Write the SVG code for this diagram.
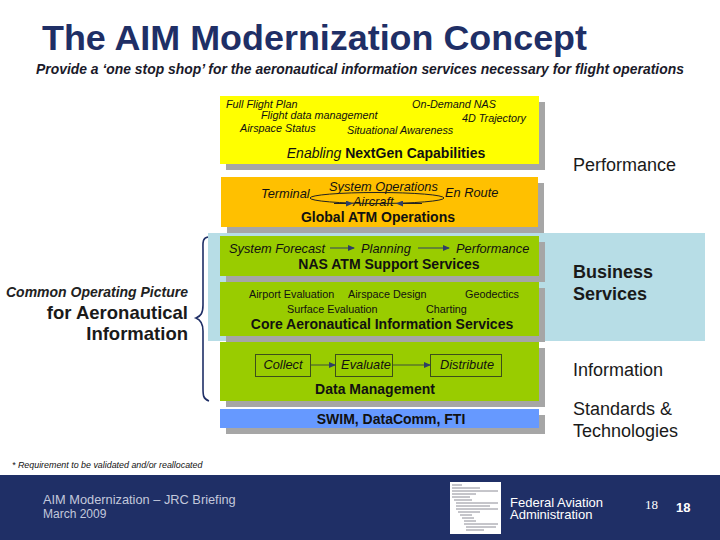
<svg xmlns="http://www.w3.org/2000/svg" width="720" height="540" viewBox="0 0 720 540">
<style>
text{font-family:"Liberation Sans",Arial,sans-serif;fill:#111}
.i{font-style:italic}
.s{font-size:10.8px}
.m{font-size:12.8px}
.b{font-weight:bold;font-size:14px}
.h{font-size:18px;fill:#1a1a1a}
.hb{font-size:18.5px;font-weight:bold;fill:#1a1a1a;font-weight:500}
.sh{fill:#a6a6a6}
.m2{text-anchor:middle}
.ln{fill:none;stroke:#1f2f66;stroke-width:1.6}
.bx{fill:none;stroke:#3d4f1a;stroke-width:1}
</style>
<defs>
<marker id="a" markerWidth="7" markerHeight="6" refX="6" refY="3" orient="auto"><path d="M0 0L7 3L0 6z" fill="#2f3f66"/></marker>
</defs>
<rect width="720" height="540" fill="#fff"/>
<text x="42" y="50" style="font-size:35.900px;font-weight:bold;fill:#1f2f66">The AIM Modernization Concept</text>
<text x="36" y="74" class="i" style="font-size:13.900px;font-weight:bold;fill:#1a1a2a">Provide a ‘one stop shop’ for the aeronautical information services necessary for flight operations</text>
<rect x="208" y="233" width="497" height="108" fill="#b7dde6"/>
<g id="capabilities">
<rect class="sh" x="226" y="102" width="319" height="68"/>
<rect x="220" y="96" width="319" height="68" fill="#ffff00"/>
<text x="226" y="108" class="i s">Full Flight Plan</text>
<text x="412" y="108" class="i s">On-Demand NAS</text>
<text x="261" y="119" class="i s">Flight data management</text>
<text x="462" y="122" class="i s">4D Trajectory</text>
<text x="240" y="132" class="i s">Airspace Status</text>
<text x="347" y="134" class="i s">Situational Awareness</text>
<text x="386" y="158" class="b m2"><tspan font-style="italic" font-weight="normal">Enabling</tspan> NextGen Capabilities</text>
</g>
<g id="operations">
<rect class="sh" x="227" y="183" width="317" height="50"/>
<rect x="221" y="177" width="317" height="50" fill="#ffc000"/>
<text x="261" y="198" class="i m">Terminal</text>
<text x="329" y="191" class="i m">System Operations</text>
<text x="445" y="197" class="i m">En Route</text>
<text x="353" y="206" class="i m">Aircraft</text>
<text x="378" y="222" class="b m2">Global ATM Operations</text>
</g>
<g id="support">
<rect class="sh" x="226" y="242" width="319" height="40"/>
<rect x="220" y="236" width="319" height="40" fill="#99cc00"/>
<text x="229" y="253" class="i m">System Forecast</text>
<text x="361" y="253" class="i m">Planning</text>
<text x="456" y="253" class="i m">Performance</text>
<text x="389" y="269" class="b m2">NAS ATM Support Services</text>
</g>
<g id="core">
<rect class="sh" x="226" y="288" width="319" height="54"/>
<rect x="220" y="282" width="319" height="54" fill="#99cc00"/>
<text x="249" y="298" class="s">Airport Evaluation</text>
<text x="348" y="298" class="s">Airspace Design</text>
<text x="465" y="298" class="s">Geodectics</text>
<text x="287" y="313" class="s">Surface Evaluation</text>
<text x="426" y="313" class="s">Charting</text>
<text x="382" y="329" class="b m2">Core Aeronautical Information Services</text>
</g>
<g id="data">
<rect class="sh" x="226" y="348" width="319" height="59"/>
<rect x="220" y="342" width="319" height="59" fill="#99cc00"/>
<rect class="bx" x="255.500" y="354.500" width="55" height="22"/>
<rect class="bx" x="335.500" y="354.500" width="57" height="22"/>
<rect class="bx" x="430.500" y="354.500" width="71" height="22"/>
<text x="283" y="369" class="i m m2">Collect</text>
<text x="366" y="369" class="i m m2">Evaluate</text>
<text x="467" y="369" class="i m m2">Distribute</text>
<text x="375" y="394" class="b m2">Data Management</text>
</g>
<g id="swim">
<rect class="sh" x="226" y="415" width="319" height="19"/>
<rect x="220" y="409" width="319" height="19" fill="#6699ff"/>
<text x="391" y="424" class="m2" style="font-size:14px;font-weight:bold">SWIM, DataComm, FTI</text>
</g>
<g id="connectors">
<path class="ln" d="M208 237C202 238 203 243 203 250V305C203 313 201 316 196 318C201 320 203 324 203 331V388C203 395 203 399 209 401"/>
<ellipse cx="377" cy="198" rx="67" ry="5.500" fill="none" stroke="#222" stroke-width="1"/>
<path d="M334 203.500H352" fill="none" stroke="#222" marker-end="url(#a)"/>
<path d="M422 203.500H397" fill="none" stroke="#222" marker-end="url(#a)"/>
<path d="M330 248H354" fill="none" stroke="#2f3f66" marker-end="url(#a)"/>
<path d="M418 248H449" fill="none" stroke="#2f3f66" marker-end="url(#a)"/>
<path d="M311 365H335" fill="none" stroke="#3d4f3a" marker-end="url(#a)"/>
<path d="M393 365H430" fill="none" stroke="#3d4f3a" marker-end="url(#a)"/>
</g>
<text x="188" y="297" class="i" text-anchor="end" style="font-weight:bold;font-size:14px;fill:#222">Common Operating Picture</text>
<text x="188" y="319" class="h" text-anchor="end" style="font-size:18.500px;font-weight:bold">for Aeronautical</text>
<text x="188" y="340" class="h" text-anchor="end" style="font-size:18.500px;font-weight:bold">Information</text>
<text x="573" y="171" class="h">Performance</text>
<text x="573" y="278" class="h" style="font-weight:bold">Business</text>
<text x="573" y="300" class="h" style="font-weight:bold">Services</text>
<text x="573" y="376" class="h">Information</text>
<text x="573" y="415" class="h">Standards &amp;</text>
<text x="573" y="437" class="h">Technologies</text>
<text x="12" y="468" class="i" style="font-size:8.900px">* Requirement to be validated and/or reallocated</text>
<rect y="475" width="720" height="65" fill="#1f2f66"/>
<text x="43" y="504" style="font-size:12.800px;fill:#c3c8dc">AIM Modernization – JRC Briefing</text>
<text x="43" y="518" style="font-size:12px;fill:#c3c8dc">March 2009</text>
<rect x="450" y="482" width="51" height="52" fill="#fff"/>
<path d="M452 485H462M452 488H480M452 491H498M452 494H476M452 497H470M454 500H472M456 503H498M456 506H490M456 509H498M458 512H480M460 515H472M462 518H474M464 521H476M464 524H498M466 527H496M466 530H484" stroke="#8c8c96" stroke-width="1" fill="none"/>
<text x="510" y="507" style="font-size:13px;fill:#fff">Federal Aviation</text>
<text x="510" y="519" style="font-size:13px;fill:#fff">Administration</text>
<text x="645" y="509" style="font-family:'Liberation Serif',serif;font-size:13px;fill:#fff">18</text>
<text x="676" y="512" style="font-size:13px;font-weight:bold;fill:#fff">18</text>
</svg>
